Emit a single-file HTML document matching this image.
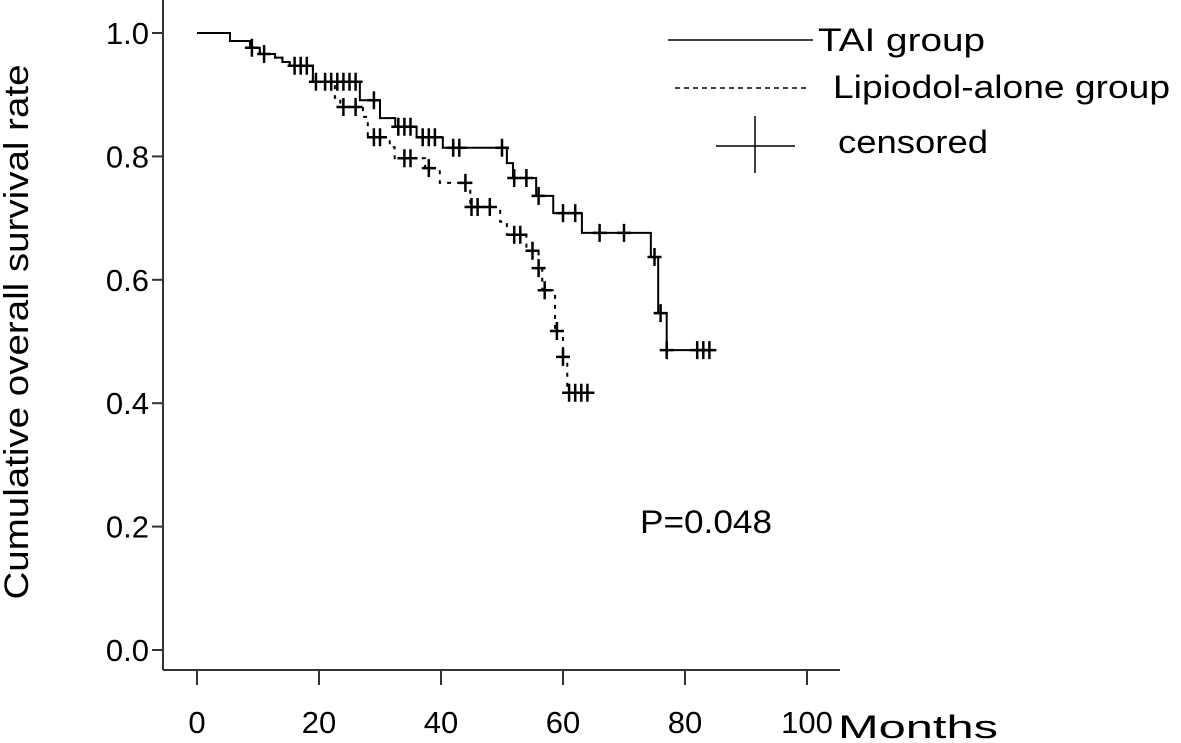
<!DOCTYPE html>
<html><head><meta charset="utf-8">
<style>
html,body{margin:0;padding:0;background:#fff;}
svg{display:block;font-family:"Liberation Sans",sans-serif;}
</style></head>
<body>
<svg id="chart" width="1181" height="743" viewBox="0 0 1181 743">
<g id="axes"></g>
<g id="series"></g>
<text x="28" y="332" transform="rotate(-90 28 332)" text-anchor="middle" font-size="34" fill="#000" textLength="535" lengthAdjust="spacingAndGlyphs">Cumulative overall survival rate</text>
<text x="838" y="738" font-size="32" fill="#000" textLength="160" lengthAdjust="spacingAndGlyphs">Months</text>
<text x="640" y="533" font-size="32" fill="#000" textLength="132" lengthAdjust="spacingAndGlyphs">P=0.048</text>
<g>
<line x1="668" y1="40" x2="813" y2="40" stroke="#000" stroke-width="1.5"/>
<text x="818" y="51" font-size="32" textLength="167" lengthAdjust="spacingAndGlyphs">TAI group</text>
<line x1="675" y1="88" x2="810" y2="88" stroke="#000" stroke-width="1.5" stroke-dasharray="5,4"/>
<text x="833" y="98" font-size="32" textLength="337" lengthAdjust="spacingAndGlyphs">Lipiodol-alone group</text>
<line x1="716" y1="146" x2="795" y2="146" stroke="#000" stroke-width="1.5"/>
<line x1="755" y1="116" x2="755" y2="173" stroke="#000" stroke-width="1.5"/>
<text x="838" y="153" font-size="32" textLength="150" lengthAdjust="spacingAndGlyphs">censored</text>
</g>
</svg>
<script>
const xTicks=[0,20,40,60,80,100];
const yTicks=[0.0,0.2,0.4,0.6,0.8,1.0];
const yTickLabels=["0.0","0.2","0.4","0.6","0.8","1.0"];
const taiTimes=[0,5.4,8.7,10.3,12.8,14,15.2,19,26.7,30,32.5,36,40.3,50.8,51.8,55.6,58.4,63.1,74.4,75.6,77,84.6];
const taiSurv=[1.0,0.987,0.976,0.966,0.96,0.953,0.947,0.921,0.891,0.862,0.848,0.831,0.814,0.789,0.765,0.736,0.708,0.676,0.637,0.546,0.486,0.486];
const lipTimes=[0,5.4,8.7,10.3,12.8,14,15.2,19,22.6,23.5,27.2,28,31.6,32.4,37.4,39.8,44.8,49.7,50.8,54,56,56.6,58.7,60,60.7,65];
const lipSurv=[1.0,0.987,0.976,0.966,0.96,0.953,0.947,0.921,0.895,0.88,0.864,0.831,0.815,0.797,0.781,0.757,0.718,0.694,0.673,0.647,0.619,0.583,0.517,0.475,0.417,0.417];
const taiCensT=[9,11,16,17,18,19.5,21,22,23,24,25,26,29,33,34,35,37,38,39,42,43,50,52,54,56,60,62,66,70,75,76,77,82,83,84];
const lipCensT=[24,26,29,30,34,35,38,44,45,46,48,52,53,55,56,57,59,60,61,62,63,64];
const X0=197,XS=6.1,Y0=650,YS=617;
const sx=m=>X0+m*XS, sy=v=>Y0-v*YS;
const NS="http://www.w3.org/2000/svg";
const axes=document.getElementById('axes'), ser=document.getElementById('series');
function mk(tag,attrs,parent){const e=document.createElementNS(NS,tag);for(const k in attrs)e.setAttribute(k,attrs[k]);parent.appendChild(e);return e;}
let yl=mk('line',{x1:163,y1:0,x2:163,y2:670,stroke:'#333','stroke-width':2},axes);


let xl=mk('line',{x1:163,y1:670,x2:840,y2:670,stroke:'#333','stroke-width':2},axes);


xTicks.forEach(t=>{
 let l=mk('line',{x1:sx(t),y1:670,x2:sx(t),y2:685,stroke:'#333','stroke-width':2},axes);
 
 
 let tx=mk('text',{x:sx(t),y:733,'text-anchor':'middle','font-size':31},axes);
 tx.textContent=t;
 
 
});
yTicks.forEach((t,i)=>{
 let l=mk('line',{x1:152,y1:sy(t),x2:163,y2:sy(t),stroke:'#333','stroke-width':2},axes);
 
 
 let tx=mk('text',{x:149,y:sy(t)+11,'text-anchor':'end','font-size':31},axes);
 tx.textContent=yTickLabels[i];
 
 
});
function stepPath(T,S){let d='M'+sx(T[0])+','+sy(S[0]);for(let i=1;i<T.length;i++){d+=' H'+sx(T[i])+' V'+sy(S[i]);}return d;}
function survAt(T,S,t){let v=S[0];for(let i=0;i<T.length;i++){if(T[i]<=t)v=S[i];}return v;}
let lp=mk('path',{d:stepPath(lipTimes,lipSurv),fill:'none',stroke:'#000','stroke-width':2,'stroke-dasharray':'4,6'},ser);


let tp=mk('path',{d:stepPath(taiTimes,taiSurv),fill:'none',stroke:'#000','stroke-width':2},ser);


function cens(T,TS,SS,name){T.forEach(t=>{const x=sx(t),y=sy(survAt(TS,SS,t));
 let p=mk('path',{d:`M${x-7},${y} H${x+7} M${x},${y-9} V${y+9}`,stroke:'#000','stroke-width':2.5,fill:'none'},ser);
 
 });}
cens(taiCensT,taiTimes,taiSurv,'tai-censored-mark');
cens(lipCensT,lipTimes,lipSurv,'lipiodol-censored-mark');
</script>
</body></html>
